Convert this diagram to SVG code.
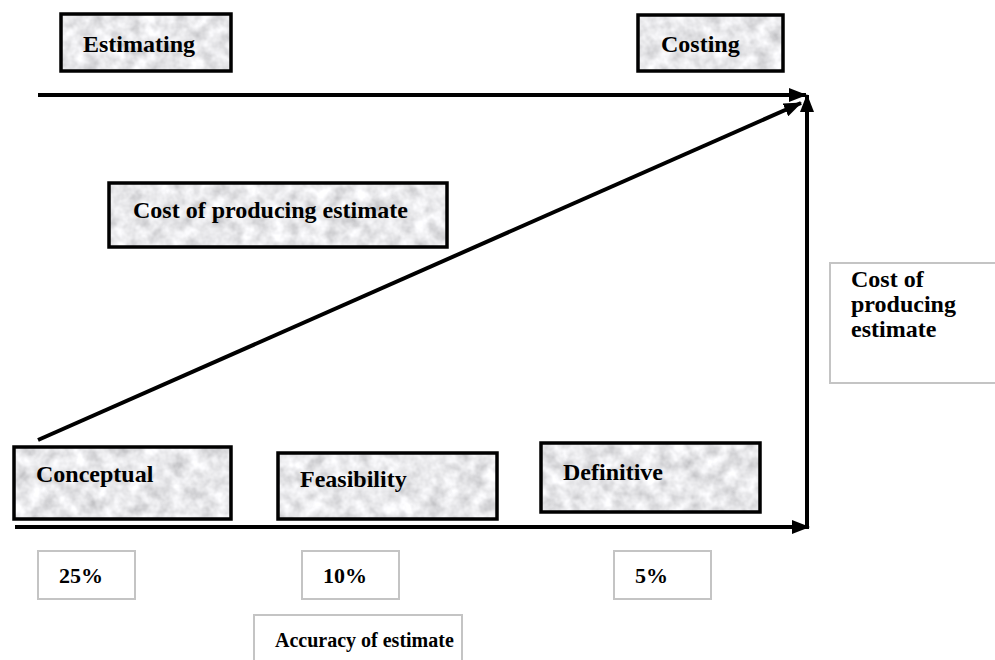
<svg xmlns="http://www.w3.org/2000/svg" width="995" height="660" viewBox="0 0 995 660">
  <defs>
    <!-- mottled grey "granite" fill used by the stage boxes -->
    <filter id="granite" x="0" y="0" width="100%" height="100%" filterUnits="objectBoundingBox">
      <feTurbulence type="fractalNoise" baseFrequency="0.07" numOctaves="3" seed="7" result="noise"/>
      <feColorMatrix in="noise" type="matrix" values="0.7 0 0 0 0.46  0.7 0 0 0 0.46  0.7 0 0 0 0.48  0 0 0 0 1" result="grey"/>
      <feComposite in="grey" in2="SourceGraphic" operator="in"/>
    </filter>
    <marker id="head" markerUnits="userSpaceOnUse" markerWidth="18" markerHeight="14" refX="17" refY="7" orient="auto">
      <path d="M0,0 L18,7 L0,14 Z" fill="#000"/>
    </marker>
  </defs>
  <style>
    .fill { fill: #d8d8d8; filter: url(#granite); }
    .frame { fill: none; stroke: #000; stroke-width: 3.5; }
    .plain { fill: #fff; stroke: #c4c4c4; stroke-width: 2; }
    .lbl { font-family: "Liberation Serif", "Times New Roman", serif; font-weight: bold; font-size: 24px; fill: #000; }
    .pct { font-size: 22px; }
    .acc { font-size: 20px; }
    .arrow { stroke: #000; stroke-width: 4; fill: none; }
  </style>

  <rect width="995" height="660" fill="#fff"/>

  <!-- connectors -->
  <g id="connectors">
    <line class="arrow" x1="38" y1="95" x2="806" y2="95" marker-end="url(#head)"/>
    <line class="arrow" x1="38" y1="440" x2="801" y2="103" marker-end="url(#head)"/>
    <line class="arrow" x1="15" y1="527" x2="809" y2="527" marker-end="url(#head)"/>
    <line class="arrow" x1="807" y1="529" x2="807" y2="95" marker-end="url(#head)"/>
  </g>

  <g id="estimating">
    <rect class="fill" x="61" y="14" width="170" height="57"/>
    <rect class="frame" x="61" y="14" width="170" height="57"/>
    <text class="lbl" x="83" y="52">Estimating</text>
  </g>

  <g id="costing">
    <rect class="fill" x="638" y="15" width="145" height="56"/>
    <rect class="frame" x="638" y="15" width="145" height="56"/>
    <text class="lbl" x="661" y="52">Costing</text>
  </g>

  <g id="cost-estimate">
    <rect class="fill" x="109" y="183" width="338" height="64"/>
    <rect class="frame" x="109" y="183" width="338" height="64"/>
    <text class="lbl" x="133" y="218">Cost of producing estimate</text>
  </g>

  <g id="conceptual">
    <rect class="fill" x="14" y="447" width="217" height="72"/>
    <rect class="frame" x="14" y="447" width="217" height="72"/>
    <text class="lbl" x="36" y="482">Conceptual</text>
  </g>

  <g id="feasibility">
    <rect class="fill" x="278" y="453" width="219" height="66"/>
    <rect class="frame" x="278" y="453" width="219" height="66"/>
    <text class="lbl" x="300" y="487">Feasibility</text>
  </g>

  <g id="definitive">
    <rect class="fill" x="541" y="443" width="219" height="69"/>
    <rect class="frame" x="541" y="443" width="219" height="69"/>
    <text class="lbl" x="563" y="480">Definitive</text>
  </g>

  <g id="cost-axis">
    <rect class="plain" x="830" y="263" width="180" height="120"/>
    <text class="lbl" x="851" y="287">Cost of</text>
    <text class="lbl" x="851" y="312">producing</text>
    <text class="lbl" x="851" y="337">estimate</text>
  </g>

  <g id="pct-25">
    <rect class="plain" x="38" y="551" width="97" height="48"/>
    <text class="lbl pct" x="59" y="583">25%</text>
  </g>

  <g id="pct-10">
    <rect class="plain" x="302" y="551" width="97" height="48"/>
    <text class="lbl pct" x="323" y="583">10%</text>
  </g>

  <g id="pct-5">
    <rect class="plain" x="614" y="551" width="97" height="48"/>
    <text class="lbl pct" x="635" y="583">5%</text>
  </g>

  <g id="accuracy">
    <rect class="plain" x="254" y="615" width="208" height="60"/>
    <text class="lbl acc" x="275" y="647">Accuracy of estimate</text>
  </g>
</svg>
